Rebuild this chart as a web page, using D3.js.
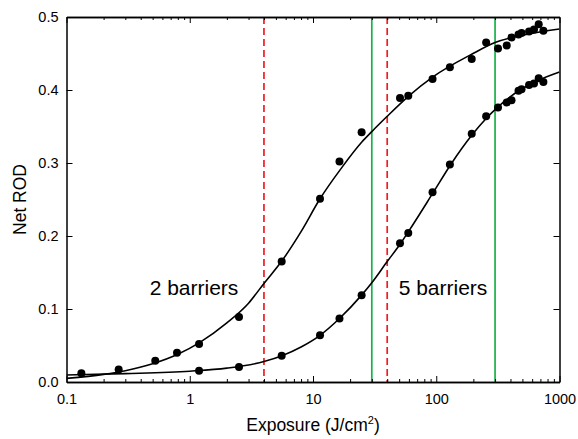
<!DOCTYPE html>
<html>
<head>
<meta charset="UTF-8">
<title></title>
<style>
    body { margin: 0; background: #fff; }
    text { font-family: "Liberation Sans", Arial, sans-serif; fill: #000; }
</style>
</head>
<body>
<div id="svg"></div>
<script src="https://d3js.org/d3.v7.min.js"></script>
<script>
// measured points, 2 barriers
var exposure2 = [0.132, 0.265, 0.525, 0.788, 1.19, 2.51, 5.57, 11.4, 16.4, 24.8, 50.8, 59.3, 93.3, 129, 194, 254, 317, 373, 408, 465, 492, 566, 621, 678, 740];
var rod2 = [0.012, 0.017, 0.029, 0.040, 0.052, 0.089, 0.165, 0.251, 0.302, 0.342, 0.389, 0.392, 0.415, 0.431, 0.4425, 0.465, 0.457, 0.461, 0.472, 0.476, 0.478, 0.480, 0.483, 0.490, 0.481];

// measured points, 5 barriers
var exposure5 = [1.19, 2.51, 5.57, 11.4, 16.4, 24.8, 50.8, 59.3, 93.3, 129, 194, 254, 317, 373, 408, 465, 492, 566, 621, 678, 740];
var rod5 = [0.0155, 0.0205, 0.036, 0.064, 0.087, 0.119, 0.190, 0.204, 0.260, 0.298, 0.340, 0.364, 0.376, 0.383, 0.386, 0.399, 0.401, 0.407, 0.409, 0.416, 0.411];

// fitted curves
var fitExposure2 = [0.1, 0.2, 0.3, 0.5, 0.8, 1.2, 2, 3, 4, 5.6, 8, 11.4, 17, 25, 30, 40, 60, 94, 194, 300, 577, 1000];
var fitRod2 = [0.005, 0.0105, 0.0155, 0.025, 0.038, 0.054, 0.081, 0.108, 0.135, 0.166, 0.206, 0.251, 0.293, 0.329, 0.343, 0.364, 0.392, 0.418, 0.449, 0.465, 0.477, 0.4836];
var fitExposure5 = [0.1, 0.3, 1, 2, 4, 5.6, 8, 11.4, 16.4, 24.8, 30, 40, 51, 60, 94, 130, 194, 254, 317, 400, 500, 650, 1000];
var fitRod5 = [0.0096, 0.0115, 0.0148, 0.019, 0.028, 0.036, 0.048, 0.064, 0.087, 0.119, 0.136, 0.165, 0.189, 0.207, 0.259, 0.297, 0.338, 0.361, 0.377, 0.391, 0.402, 0.412, 0.4245];

var redLines = [4, 40];
var greenLines = [30, 300];

var xTicks = [0.1, 1, 10, 100, 1000];
var xTickLabels = ["0.1", "1", "10", "100", "1000"];
var yTicks = [0, 0.1, 0.2, 0.3, 0.4, 0.5];
var yTickLabels = ["0.0", "0.1", "0.2", "0.3", "0.4", "0.5"];

var width = 578, height = 439;
var pl = 66.5, pr = 559.5, pt = 17, pb = 382;

var svg = d3.select("#svg").append("svg")
    .attr("width", width)
    .attr("height", height);

var x = d3.scaleLog().domain([0.1, 1000]).range([pl, pr]);
var y = d3.scaleLinear().domain([0, 0.5]).range([pb, pt]);

var minorTicks = [];
xTicks.slice(0, -1).forEach(function(t) {
    for (var k = 2; k <= 9; k++) minorTicks.push(t * k);
});

svg.append("clipPath").attr("id", "plot")
    .append("rect").attr("x", pl).attr("y", pt)
    .attr("width", pr - pl).attr("height", pb - pt);

var plot = svg.append("g").attr("clip-path", "url(#plot)");

plot.selectAll("line.red")
    .data(redLines)
    .join("line")
    .attr("class", "red")
    .attr("x1", d => x(d)).attr("x2", d => x(d))
    .attr("y1", pt).attr("y2", pb)
    .attr("stroke", "#f21b22")
    .attr("stroke-width", 1.7)
    .attr("stroke-dasharray", "7,4");

plot.selectAll("line.green")
    .data(greenLines)
    .join("line")
    .attr("class", "green")
    .attr("x1", d => x(d)).attr("x2", d => x(d))
    .attr("y1", pt).attr("y2", pb)
    .attr("stroke", "#17b24a")
    .attr("stroke-width", 1.7);

var line = d3.line()
    .x(d => x(d[0]))
    .y(d => y(d[1]))
    .curve(d3.curveMonotoneX);

[[fitExposure2, fitRod2], [fitExposure5, fitRod5]].forEach(function(s) {
    plot.append("path")
        .datum(d3.zip(s[0], s[1]))
        .attr("fill", "none")
        .attr("stroke", "#000")
        .attr("stroke-width", 1.6)
        .attr("d", line);
});

[[exposure2, rod2], [exposure5, rod5]].forEach(function(s) {
    plot.append("g").selectAll("circle")
        .data(d3.zip(s[0], s[1]))
        .join("circle")
        .attr("cx", d => x(d[0]))
        .attr("cy", d => y(d[1]))
        .attr("r", 4)
        .attr("fill", "#000");
});

// axes, ticks pointing inward on all four sides
function style(g) {
    g.attr("font-size", 14.5).attr("font-family", null);
    g.selectAll("path.domain").attr("stroke", "#000").attr("stroke-width", 1.5);
    g.selectAll(".tick line").attr("stroke", "#000").attr("stroke-width", 1);
}

svg.append("g").attr("transform", "translate(0," + pb + ")")
    .call(d3.axisBottom(x).tickValues(minorTicks).tickFormat("").tickSizeInner(-3).tickSizeOuter(0))
    .call(style);
svg.append("g").attr("transform", "translate(0," + pt + ")")
    .call(d3.axisTop(x).tickValues(minorTicks).tickFormat("").tickSizeInner(-3).tickSizeOuter(0))
    .call(style);
svg.append("g").attr("transform", "translate(0," + pb + ")")
    .call(d3.axisBottom(x).tickValues(xTicks).tickFormat((d, i) => xTickLabels[i]).tickSizeInner(-6).tickSizeOuter(0).tickPadding(12))
    .call(style);
svg.append("g").attr("transform", "translate(0," + pt + ")")
    .call(d3.axisTop(x).tickValues(xTicks).tickFormat("").tickSizeInner(-6).tickSizeOuter(0))
    .call(style);
svg.append("g").attr("transform", "translate(" + pl + ",0)")
    .call(d3.axisLeft(y).tickValues(yTicks).tickFormat((d, i) => yTickLabels[i]).tickSizeInner(-6).tickSizeOuter(0).tickPadding(8))
    .call(style);
svg.append("g").attr("transform", "translate(" + pr + ",0)")
    .call(d3.axisRight(y).tickValues(yTicks).tickFormat("").tickSizeInner(-6).tickSizeOuter(0))
    .call(style);

svg.append("text")
    .attr("x", 194).attr("y", 295)
    .attr("text-anchor", "middle")
    .attr("font-size", 21)
    .text("2 barriers");
svg.append("text")
    .attr("x", 443).attr("y", 295)
    .attr("text-anchor", "middle")
    .attr("font-size", 21)
    .text("5 barriers");

var xl = svg.append("text")
    .attr("x", (pl + pr) / 2).attr("y", 431)
    .attr("text-anchor", "middle")
    .attr("font-size", 17.5);
xl.append("tspan").text("Exposure (J/cm");
xl.append("tspan").attr("font-size", 11).attr("dy", -7).text("2");
xl.append("tspan").attr("dy", 7).text(")");

svg.append("text")
    .attr("transform", "translate(26," + ((pt + pb) / 2) + ") rotate(-90)")
    .attr("text-anchor", "middle")
    .attr("font-size", 17.5)
    .text("Net ROD");
</script>
</body>
</html>
